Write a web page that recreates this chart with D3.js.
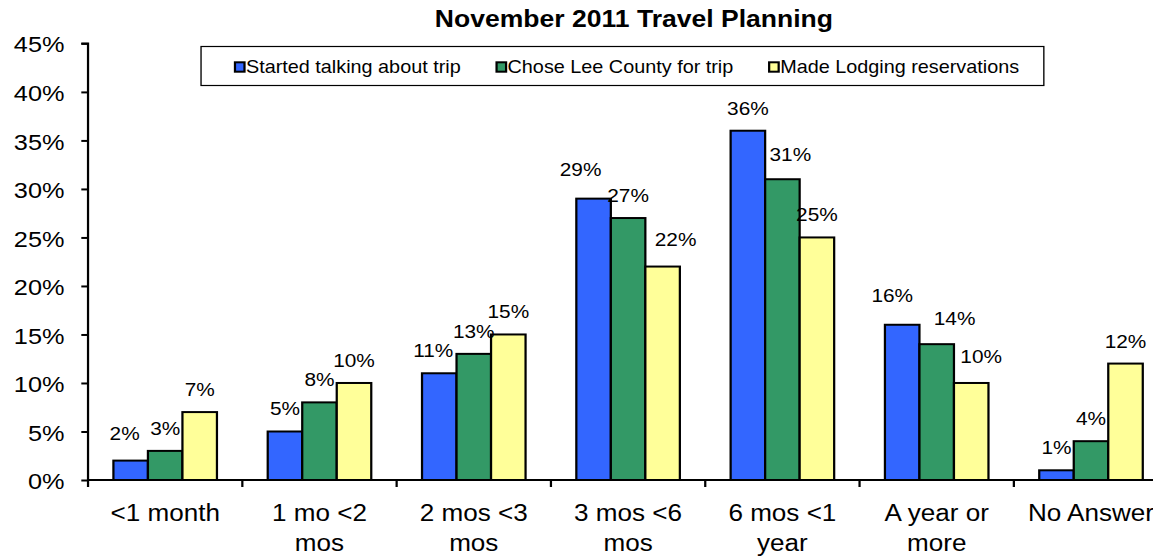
<!DOCTYPE html>
<html>
<head>
<meta charset="utf-8">
<script src="https://cdn.jsdelivr.net/npm/d3@7/dist/d3.min.js"></script>
<style>
  html, body { margin: 0; padding: 0; background: #fff; }
  svg { display: block; font-family: "Liberation Sans", Arial, sans-serif; }
</style>
</head>
<body>
<svg id="chart"></svg>
<script>
// ---- data ----
const categories = ["<1 month", "1 mo <2 mos", "2 mos <3 mos", "3 mos <6 mos", "6 mos <1 year", "A year or more", "No Answer"];
const seriesNames = ["Started talking about trip", "Chose Lee County for trip", "Made Lodging reservations"];
const startedTalking = [2, 5, 11, 29, 36, 16, 1];
const choseLeeCounty = [3, 8, 13, 27, 31, 14, 4];
const madeLodging = [7, 10, 15, 22, 25, 10, 12];
const yTickValues = [0, 5, 10, 15, 20, 25, 30, 35, 40, 45];
const title = "November 2011 Travel Planning";

// ---- styling / layout ----
const colors = ["#3366FF", "#339966", "#FFFF99"];
const pageW = 1153, pageH = 556;
const stretch = 1.12;              // chart is drawn slightly widened horizontally
const W = pageW / stretch, H = pageH;
const plot = { left: 78.6, right: 1043, top: 43.4, bottom: 480 };

// hand-placed offsets for a few value labels that would crowd their neighbours
const labelNudge = {
  "0,0": [-5.4, -4.6], "0,2": [-5.4, 0], "0,3": [-11.6, -6.7], "2,3": [11.6, -4.6],
  "1,4": [7.1, -2.3], "0,5": [-8.9, -7], "1,5": [16, -3], "2,5": [8.9, -4]
};

const series = [startedTalking, choseLeeCounty, madeLodging];
const rows = [];
series.forEach((vals, s) => vals.forEach((v, c) => rows.push({ s, c, v })));

const svg = d3.select("#chart")
  .attr("width", pageW).attr("height", pageH)
  .attr("viewBox", `0 0 ${W} ${H}`)
  .attr("preserveAspectRatio", "none");

const x = d3.scaleBand().domain(d3.range(categories.length))
  .range([plot.left, plot.right]).paddingInner(0.329).paddingOuter(0.1645);
const xs = d3.scaleBand().domain(d3.range(series.length)).range([0, x.bandwidth()]);
const y = d3.scaleLinear().domain([0, 45]).range([plot.bottom, plot.top]);

// title
svg.append("text")
  .attr("x", 566).attr("y", 27)
  .attr("text-anchor", "middle")
  .attr("font-weight", "bold").attr("font-size", 23.7)
  .text(title);

// y axis
const yAxis = d3.axisLeft(y).tickValues(yTickValues).tickSize(6).tickPadding(15)
  .tickFormat(d => d + "%");
const gy = svg.append("g").attr("transform", `translate(${plot.left},0)`).call(yAxis);
gy.select(".domain").attr("stroke", "#000").attr("stroke-width", 2)
  .attr("d", `M-6,${plot.top}H0V${plot.bottom}`);
gy.selectAll(".tick line").attr("stroke", "#000").attr("stroke-width", 2);
gy.selectAll(".tick text").attr("font-size", 22.6).attr("fill", "#000")
  .attr("font-family", "'Liberation Sans', Arial, sans-serif").attr("dy", "0.38em");

// bars
svg.append("g").selectAll("rect").data(rows).join("rect")
  .attr("x", d => x(d.c) + xs(d.s))
  .attr("y", d => y(d.v))
  .attr("width", xs.bandwidth())
  .attr("height", d => y(0) - y(d.v))
  .attr("fill", d => colors[d.s])
  .attr("stroke", "#000").attr("stroke-width", 2);

// x axis line and category separators
const gx = svg.append("g");
gx.append("line").attr("x1", plot.left).attr("x2", plot.right)
  .attr("y1", plot.bottom).attr("y2", plot.bottom)
  .attr("stroke", "#000").attr("stroke-width", 2);
const bounds = d3.range(categories.length + 1).map(i => plot.left + i * x.step());
gx.selectAll("line.sep").data(bounds).join("line").attr("class", "sep")
  .attr("x1", d => d).attr("x2", d => d)
  .attr("y1", plot.bottom).attr("y2", plot.bottom + 7)
  .attr("stroke", "#000").attr("stroke-width", 2);

// category labels, wrapped to two lines where needed
const catText = gx.selectAll("text.cat").data(categories).join("text").attr("class", "cat")
  .attr("text-anchor", "middle").attr("font-size", 23.3)
  .attr("x", (d, i) => x(i) + x.bandwidth() / 2).attr("y", 521.5);
catText.each(function (d) {
  const t = d3.select(this);
  const cx = t.attr("x");
  const words = d.split(" ");
  let line = [];
  let tspan = t.append("tspan").attr("x", cx).attr("dy", 0);
  words.forEach(w => {
    line.push(w);
    tspan.text(line.join(" "));
    if (tspan.node().getComputedTextLength() > 125 && line.length > 1) {
      line.pop();
      tspan.text(line.join(" "));
      line = [w];
      tspan = t.append("tspan").attr("x", cx).attr("dy", 30).text(w);
    }
  });
});

// value labels
svg.append("g").selectAll("text").data(rows).join("text")
  .attr("text-anchor", "middle").attr("font-size", 18.6)
  .attr("x", d => x(d.c) + xs(d.s) + xs.bandwidth() / 2 + (labelNudge[d.s + "," + d.c] || [0, 0])[0])
  .attr("y", d => y(d.v) - 16 + (labelNudge[d.s + "," + d.c] || [0, 0])[1])
  .text(d => d.v + "%");

// legend
const legend = svg.append("g");
legend.append("rect")
  .attr("x", 179.5).attr("y", 46.5).attr("width", 752.5).attr("height", 39)
  .attr("fill", "#fff").attr("stroke", "#000").attr("stroke-width", 1.2);
let lx = 209.8;
seriesNames.forEach((name, i) => {
  legend.append("rect")
    .attr("x", lx).attr("y", 62.3).attr("width", 8.5).attr("height", 9.4)
    .attr("fill", colors[i]).attr("stroke", "#000").attr("stroke-width", 2);
  const t = legend.append("text")
    .attr("x", lx + 9.8).attr("y", 73.5).attr("font-size", 17.7).text(name);
  lx += 9.8 + t.node().getComputedTextLength() + 32;
});
</script>
</body>
</html>
